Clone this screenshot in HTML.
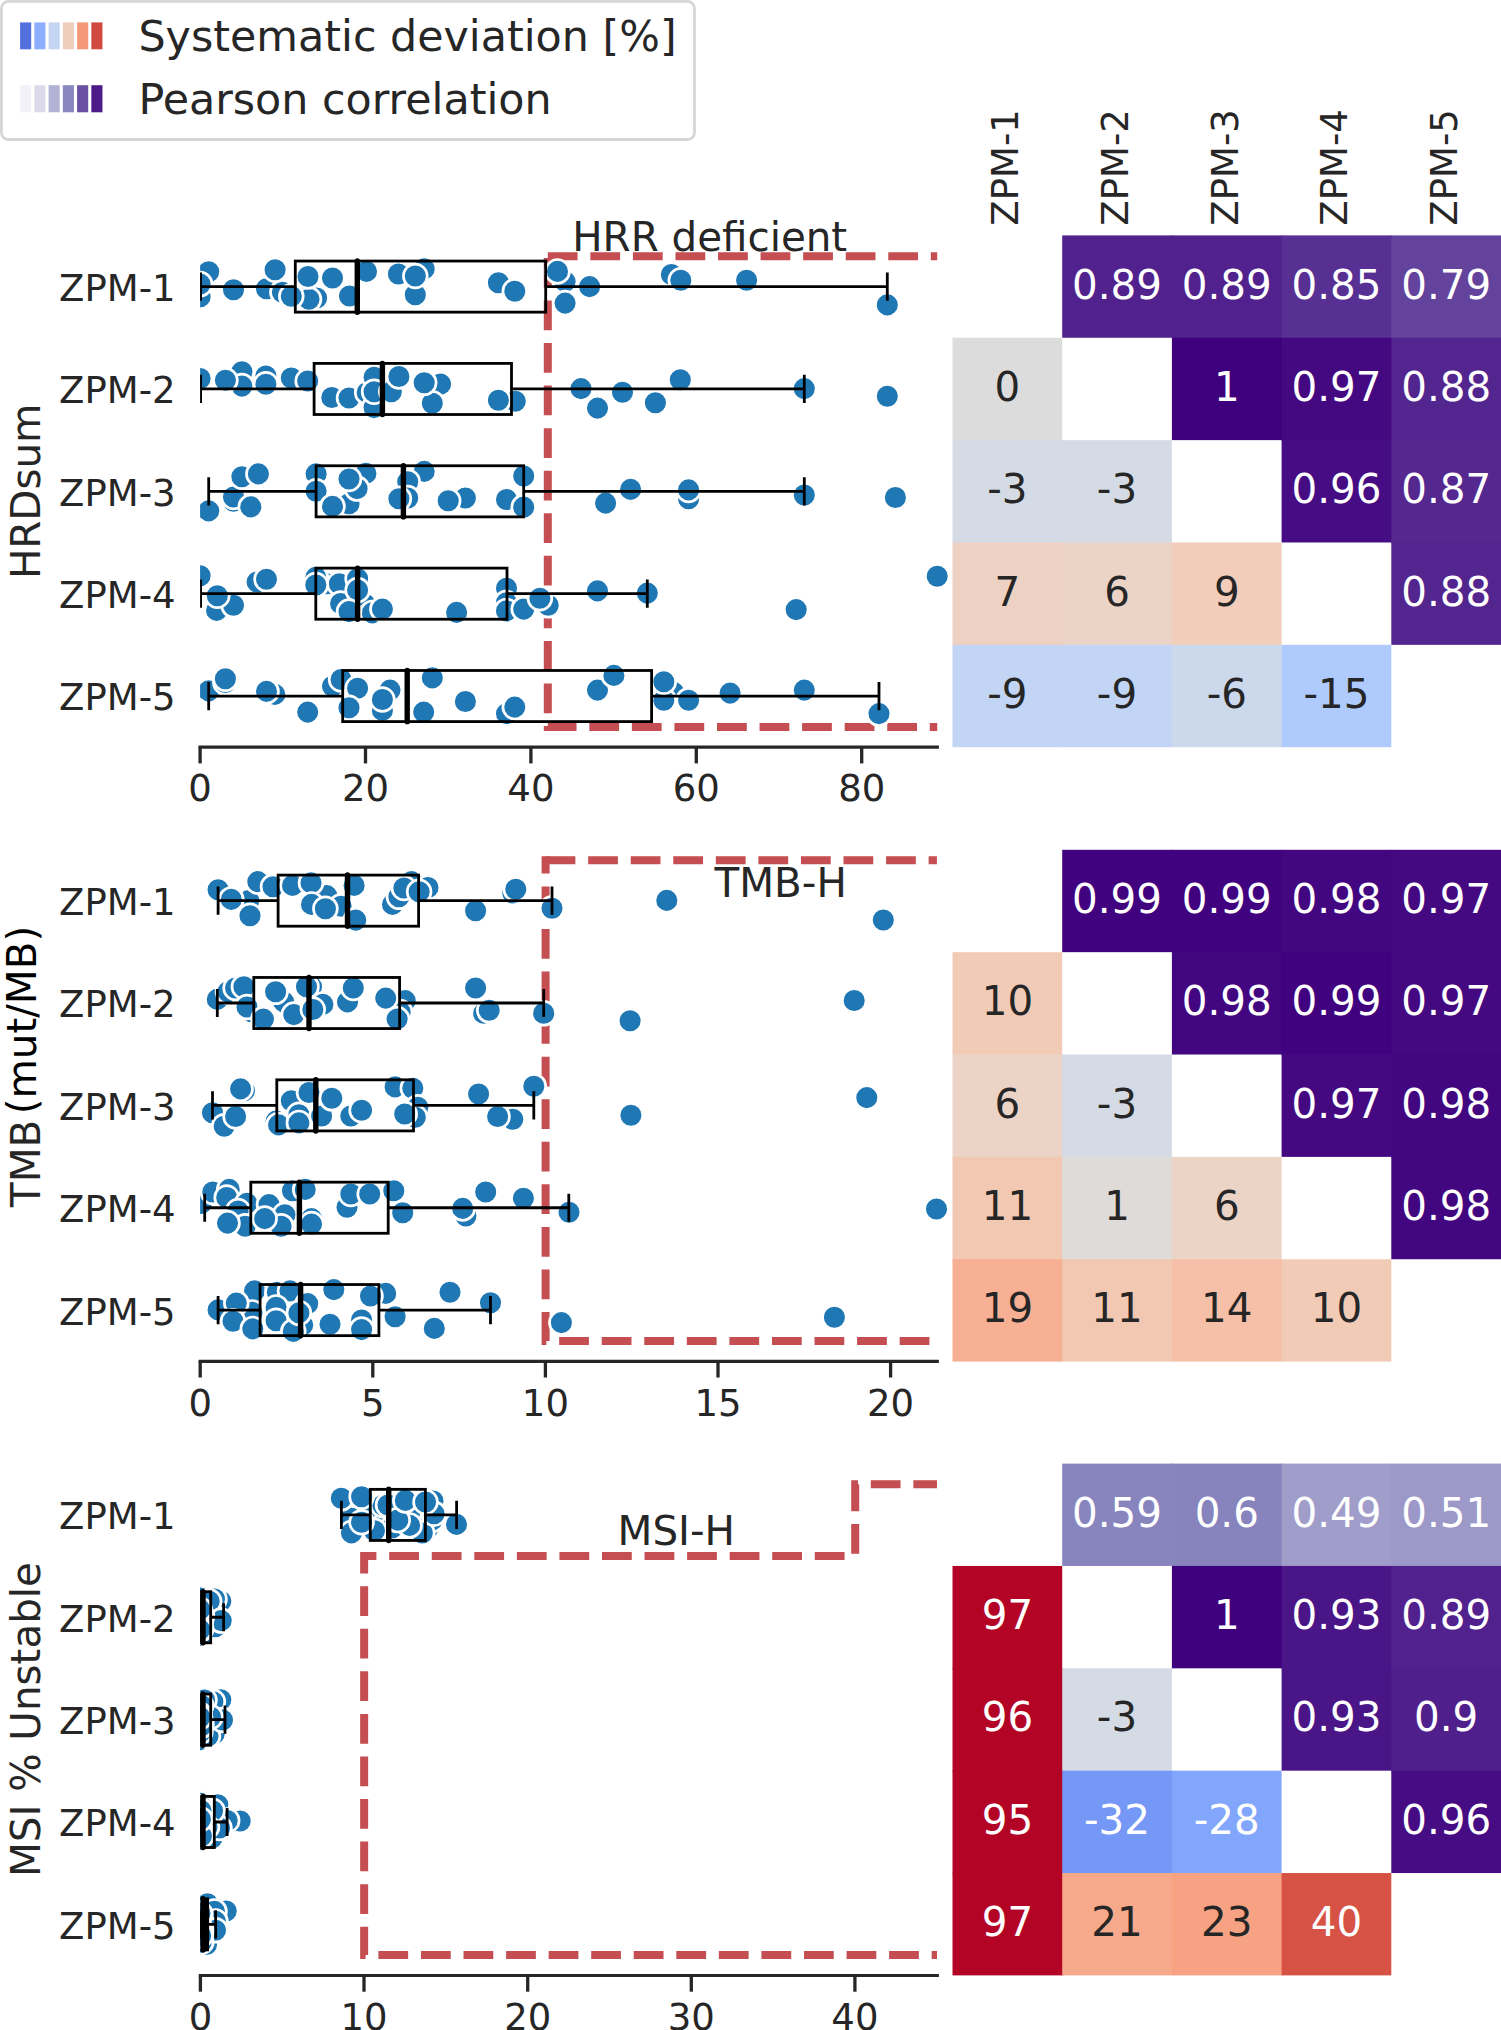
<!DOCTYPE html>
<html><head><meta charset="utf-8"><title>ZPM comparison</title>
<style>html,body{margin:0;padding:0;background:#fff}svg{display:block}</style></head>
<body>
<svg width="1501" height="2030" viewBox="0 0 1501 2030" font-family="'DejaVu Sans', 'Liberation Sans', sans-serif" fill="#262626">
<rect width="1501" height="2030" fill="#fff"/>
<defs>
<clipPath id="cp0"><rect x="200.1" y="215.4" width="759.9" height="551.8"/></clipPath>
<clipPath id="cp1"><rect x="200.1" y="829.8" width="759.9" height="551.8"/></clipPath>
<clipPath id="cp2"><rect x="200.1" y="1443.6" width="759.9" height="551.8"/></clipPath>
</defs>
<g id="legend">
<rect x="1.4" y="1.4" width="693.05" height="138.1" rx="7" ry="7" fill="#fff" stroke="#d6d6d6" stroke-width="2.8"/>
<rect x="20.10" y="22.4" width="11.1" height="26.9" fill="#5470de"/>
<rect x="20.10" y="85.2" width="11.1" height="27.1" fill="#f3f2f8"/>
<rect x="34.35" y="22.4" width="11.1" height="26.9" fill="#8db0fe"/>
<rect x="34.35" y="85.2" width="11.1" height="27.1" fill="#dadaeb"/>
<rect x="48.60" y="22.4" width="11.1" height="26.9" fill="#c5d6f2"/>
<rect x="48.60" y="85.2" width="11.1" height="27.1" fill="#b2b2d5"/>
<rect x="62.85" y="22.4" width="11.1" height="26.9" fill="#efcebd"/>
<rect x="62.85" y="85.2" width="11.1" height="27.1" fill="#8a86bf"/>
<rect x="77.10" y="22.4" width="11.1" height="26.9" fill="#f4987a"/>
<rect x="77.10" y="85.2" width="11.1" height="27.1" fill="#6950a3"/>
<rect x="91.35" y="22.4" width="11.1" height="26.9" fill="#d1493f"/>
<rect x="91.35" y="85.2" width="11.1" height="27.1" fill="#4d1a89"/>
<text x="138.4" y="51.2" font-size="42.8">Systematic deviation [%]</text>
<text x="138.4" y="113.7" font-size="42.8">Pearson correlation</text>
</g>
<text transform="translate(1018.1,225.7) rotate(-90)" font-size="37.0">ZPM-1</text>
<text transform="translate(1127.8,225.7) rotate(-90)" font-size="37.0">ZPM-2</text>
<text transform="translate(1237.5,225.7) rotate(-90)" font-size="37.0">ZPM-3</text>
<text transform="translate(1347.2,225.7) rotate(-90)" font-size="37.0">ZPM-4</text>
<text transform="translate(1457.0,225.7) rotate(-90)" font-size="37.0">ZPM-5</text>
<g id="hm0" font-size="40.4" text-anchor="middle">
<rect x="1062.20" y="235.40" width="110.70" height="102.36" fill="#51228d"/>
<rect x="1171.90" y="235.40" width="110.70" height="103.36" fill="#51228d"/>
<rect x="1281.60" y="235.40" width="110.70" height="103.36" fill="#582f93"/>
<rect x="1391.30" y="235.40" width="109.70" height="103.36" fill="#63439c"/>
<rect x="1171.90" y="337.76" width="110.70" height="102.36" fill="#3f007d"/>
<rect x="1281.60" y="337.76" width="110.70" height="103.36" fill="#440981"/>
<rect x="1391.30" y="337.76" width="109.70" height="103.36" fill="#53258e"/>
<rect x="1281.60" y="440.12" width="110.70" height="102.36" fill="#460c83"/>
<rect x="1391.30" y="440.12" width="109.70" height="103.36" fill="#552890"/>
<rect x="1391.30" y="542.48" width="109.70" height="102.36" fill="#53258e"/>
<rect x="952.50" y="337.76" width="109.70" height="103.36" fill="#dddcdc"/>
<rect x="952.50" y="440.12" width="110.70" height="103.36" fill="#d5dbe5"/>
<rect x="1062.20" y="440.12" width="109.70" height="103.36" fill="#d5dbe5"/>
<rect x="952.50" y="542.48" width="110.70" height="103.36" fill="#edd2c3"/>
<rect x="1062.20" y="542.48" width="110.70" height="103.36" fill="#ebd3c6"/>
<rect x="1171.90" y="542.48" width="109.70" height="103.36" fill="#f1cdba"/>
<rect x="952.50" y="644.84" width="110.70" height="102.36" fill="#c3d5f4"/>
<rect x="1062.20" y="644.84" width="110.70" height="102.36" fill="#c3d5f4"/>
<rect x="1171.90" y="644.84" width="110.70" height="102.36" fill="#ccd9ed"/>
<rect x="1281.60" y="644.84" width="109.70" height="102.36" fill="#afcafc"/>
<text x="1117.0" y="298.5" fill="#ffffff">0.89</text>
<text x="1226.8" y="298.5" fill="#ffffff">0.89</text>
<text x="1336.5" y="298.5" fill="#ffffff">0.85</text>
<text x="1446.2" y="298.5" fill="#ffffff">0.79</text>
<text x="1226.8" y="400.8" fill="#ffffff">1</text>
<text x="1336.5" y="400.8" fill="#ffffff">0.97</text>
<text x="1446.2" y="400.8" fill="#ffffff">0.88</text>
<text x="1336.5" y="503.2" fill="#ffffff">0.96</text>
<text x="1446.2" y="503.2" fill="#ffffff">0.87</text>
<text x="1446.2" y="605.6" fill="#ffffff">0.88</text>
<text x="1007.4" y="400.8" fill="#262626">0</text>
<text x="1007.4" y="503.2" fill="#262626">-3</text>
<text x="1117.0" y="503.2" fill="#262626">-3</text>
<text x="1007.4" y="605.6" fill="#262626">7</text>
<text x="1117.0" y="605.6" fill="#262626">6</text>
<text x="1226.8" y="605.6" fill="#262626">9</text>
<text x="1007.4" y="707.9" fill="#262626">-9</text>
<text x="1117.0" y="707.9" fill="#262626">-9</text>
<text x="1226.8" y="707.9" fill="#262626">-6</text>
<text x="1336.5" y="707.9" fill="#262626">-15</text>
</g>
<g id="hm1" font-size="40.4" text-anchor="middle">
<rect x="1062.20" y="849.80" width="110.70" height="102.36" fill="#40027e"/>
<rect x="1171.90" y="849.80" width="110.70" height="103.36" fill="#40027e"/>
<rect x="1281.60" y="849.80" width="110.70" height="103.36" fill="#420680"/>
<rect x="1391.30" y="849.80" width="109.70" height="103.36" fill="#440981"/>
<rect x="1171.90" y="952.16" width="110.70" height="102.36" fill="#420680"/>
<rect x="1281.60" y="952.16" width="110.70" height="103.36" fill="#40027e"/>
<rect x="1391.30" y="952.16" width="109.70" height="103.36" fill="#440981"/>
<rect x="1281.60" y="1054.52" width="110.70" height="102.36" fill="#440981"/>
<rect x="1391.30" y="1054.52" width="109.70" height="103.36" fill="#420680"/>
<rect x="1391.30" y="1156.88" width="109.70" height="102.36" fill="#420680"/>
<rect x="952.50" y="952.16" width="109.70" height="103.36" fill="#f2cbb7"/>
<rect x="952.50" y="1054.52" width="110.70" height="103.36" fill="#ebd3c6"/>
<rect x="1062.20" y="1054.52" width="109.70" height="103.36" fill="#d5dbe5"/>
<rect x="952.50" y="1156.88" width="110.70" height="103.36" fill="#f3c8b2"/>
<rect x="1062.20" y="1156.88" width="110.70" height="103.36" fill="#dfdbd9"/>
<rect x="1171.90" y="1156.88" width="109.70" height="103.36" fill="#ebd3c6"/>
<rect x="952.50" y="1259.24" width="110.70" height="102.36" fill="#f7b093"/>
<rect x="1062.20" y="1259.24" width="110.70" height="102.36" fill="#f3c8b2"/>
<rect x="1171.90" y="1259.24" width="110.70" height="102.36" fill="#f5c0a7"/>
<rect x="1281.60" y="1259.24" width="109.70" height="102.36" fill="#f2cbb7"/>
<text x="1117.0" y="912.9" fill="#ffffff">0.99</text>
<text x="1226.8" y="912.9" fill="#ffffff">0.99</text>
<text x="1336.5" y="912.9" fill="#ffffff">0.98</text>
<text x="1446.2" y="912.9" fill="#ffffff">0.97</text>
<text x="1226.8" y="1015.2" fill="#ffffff">0.98</text>
<text x="1336.5" y="1015.2" fill="#ffffff">0.99</text>
<text x="1446.2" y="1015.2" fill="#ffffff">0.97</text>
<text x="1336.5" y="1117.6" fill="#ffffff">0.97</text>
<text x="1446.2" y="1117.6" fill="#ffffff">0.98</text>
<text x="1446.2" y="1220.0" fill="#ffffff">0.98</text>
<text x="1007.4" y="1015.2" fill="#262626">10</text>
<text x="1007.4" y="1117.6" fill="#262626">6</text>
<text x="1117.0" y="1117.6" fill="#262626">-3</text>
<text x="1007.4" y="1220.0" fill="#262626">11</text>
<text x="1117.0" y="1220.0" fill="#262626">1</text>
<text x="1226.8" y="1220.0" fill="#262626">6</text>
<text x="1007.4" y="1322.3" fill="#262626">19</text>
<text x="1117.0" y="1322.3" fill="#262626">11</text>
<text x="1226.8" y="1322.3" fill="#262626">14</text>
<text x="1336.5" y="1322.3" fill="#262626">10</text>
</g>
<g id="hm2" font-size="40.4" text-anchor="middle">
<rect x="1062.20" y="1463.60" width="110.70" height="102.36" fill="#8885be"/>
<rect x="1171.90" y="1463.60" width="110.70" height="103.36" fill="#8683bd"/>
<rect x="1281.60" y="1463.60" width="110.70" height="103.36" fill="#a09dca"/>
<rect x="1391.30" y="1463.60" width="109.70" height="103.36" fill="#9c98c7"/>
<rect x="1171.90" y="1565.96" width="110.70" height="102.36" fill="#3f007d"/>
<rect x="1281.60" y="1565.96" width="110.70" height="103.36" fill="#4a1587"/>
<rect x="1391.30" y="1565.96" width="109.70" height="103.36" fill="#51228d"/>
<rect x="1281.60" y="1668.32" width="110.70" height="102.36" fill="#4a1587"/>
<rect x="1391.30" y="1668.32" width="109.70" height="103.36" fill="#4f1f8b"/>
<rect x="1391.30" y="1770.68" width="109.70" height="102.36" fill="#460c83"/>
<rect x="952.50" y="1565.96" width="109.70" height="103.36" fill="#b40426"/>
<rect x="952.50" y="1668.32" width="110.70" height="103.36" fill="#b40426"/>
<rect x="1062.20" y="1668.32" width="109.70" height="103.36" fill="#d5dbe5"/>
<rect x="952.50" y="1770.68" width="110.70" height="103.36" fill="#b40426"/>
<rect x="1062.20" y="1770.68" width="110.70" height="103.36" fill="#7597f6"/>
<rect x="1171.90" y="1770.68" width="109.70" height="103.36" fill="#82a6fb"/>
<rect x="952.50" y="1873.04" width="110.70" height="102.36" fill="#b40426"/>
<rect x="1062.20" y="1873.04" width="110.70" height="102.36" fill="#f7a98b"/>
<rect x="1171.90" y="1873.04" width="110.70" height="102.36" fill="#f6a283"/>
<rect x="1281.60" y="1873.04" width="109.70" height="102.36" fill="#d65244"/>
<text x="1117.0" y="1526.7" fill="#ffffff">0.59</text>
<text x="1226.8" y="1526.7" fill="#ffffff">0.6</text>
<text x="1336.5" y="1526.7" fill="#ffffff">0.49</text>
<text x="1446.2" y="1526.7" fill="#ffffff">0.51</text>
<text x="1226.8" y="1629.0" fill="#ffffff">1</text>
<text x="1336.5" y="1629.0" fill="#ffffff">0.93</text>
<text x="1446.2" y="1629.0" fill="#ffffff">0.89</text>
<text x="1336.5" y="1731.4" fill="#ffffff">0.93</text>
<text x="1446.2" y="1731.4" fill="#ffffff">0.9</text>
<text x="1446.2" y="1833.8" fill="#ffffff">0.96</text>
<text x="1007.4" y="1629.0" fill="#ffffff">97</text>
<text x="1007.4" y="1731.4" fill="#ffffff">96</text>
<text x="1117.0" y="1731.4" fill="#262626">-3</text>
<text x="1007.4" y="1833.8" fill="#ffffff">95</text>
<text x="1117.0" y="1833.8" fill="#ffffff">-32</text>
<text x="1226.8" y="1833.8" fill="#ffffff">-28</text>
<text x="1007.4" y="1936.1" fill="#ffffff">97</text>
<text x="1117.0" y="1936.1" fill="#262626">21</text>
<text x="1226.8" y="1936.1" fill="#262626">23</text>
<text x="1336.5" y="1936.1" fill="#ffffff">40</text>
</g>
<g id="panel0">
<text transform="translate(40.3,491.3) rotate(-90)" font-size="40.4" text-anchor="middle">HRDsum</text>
<text x="175.6" y="301.0" font-size="37.0" text-anchor="end">ZPM-1</text>
<text x="175.6" y="403.4" font-size="37.0" text-anchor="end">ZPM-2</text>
<text x="175.6" y="505.7" font-size="37.0" text-anchor="end">ZPM-3</text>
<text x="175.6" y="608.1" font-size="37.0" text-anchor="end">ZPM-4</text>
<text x="175.6" y="710.4" font-size="37.0" text-anchor="end">ZPM-5</text>
<path d="M547.8,256.3H937.2" fill="none" stroke="#c44e52" stroke-width="8.0" stroke-dasharray="29.76 12.8" stroke-dashoffset="0" stroke-linejoin="miter"/>
<path d="M547.8,257.9V727.1H937.2" fill="none" stroke="#c44e52" stroke-width="8.0" stroke-dasharray="29.76 12.8" stroke-dashoffset="0" stroke-linejoin="miter"/>
<g clip-path="url(#cp0)" fill="#1f77b4" stroke="#fff" stroke-width="2.7">
<circle cx="208.7" cy="271.7" r="11.9"/>
<circle cx="200.1" cy="296.8" r="11.9"/>
<circle cx="200.1" cy="284.1" r="11.9"/>
<circle cx="233.5" cy="289.7" r="11.9"/>
<circle cx="266.5" cy="288.7" r="11.9"/>
<circle cx="282.4" cy="292.2" r="11.9"/>
<circle cx="275.1" cy="269.7" r="11.9"/>
<circle cx="316.6" cy="298.0" r="11.9"/>
<circle cx="309.0" cy="299.3" r="11.9"/>
<circle cx="291.3" cy="296.3" r="11.9"/>
<circle cx="308.0" cy="276.5" r="11.9"/>
<circle cx="332.5" cy="278.0" r="11.9"/>
<circle cx="349.5" cy="296.0" r="11.9"/>
<circle cx="366.5" cy="271.4" r="11.9"/>
<circle cx="398.4" cy="274.0" r="11.9"/>
<circle cx="424.2" cy="268.9" r="11.9"/>
<circle cx="415.3" cy="294.7" r="11.9"/>
<circle cx="415.3" cy="276.0" r="11.9"/>
<circle cx="498.4" cy="282.8" r="11.9"/>
<circle cx="514.8" cy="291.2" r="11.9"/>
<circle cx="565.1" cy="281.6" r="11.9"/>
<circle cx="565.1" cy="303.1" r="11.9"/>
<circle cx="557.5" cy="271.4" r="11.9"/>
<circle cx="589.6" cy="286.6" r="11.9"/>
<circle cx="671.4" cy="274.5" r="11.9"/>
<circle cx="680.8" cy="280.3" r="11.9"/>
<circle cx="746.6" cy="280.3" r="11.9"/>
<circle cx="887.3" cy="304.9" r="11.9"/>
<circle cx="200.1" cy="378.5" r="11.9"/>
<circle cx="241.9" cy="371.7" r="11.9"/>
<circle cx="241.9" cy="386.1" r="11.9"/>
<circle cx="225.4" cy="380.3" r="11.9"/>
<circle cx="265.9" cy="376.0" r="11.9"/>
<circle cx="265.9" cy="384.3" r="11.9"/>
<circle cx="291.3" cy="378.0" r="11.9"/>
<circle cx="307.7" cy="381.0" r="11.9"/>
<circle cx="331.8" cy="397.5" r="11.9"/>
<circle cx="349.0" cy="398.0" r="11.9"/>
<circle cx="367.2" cy="392.4" r="11.9"/>
<circle cx="374.1" cy="377.2" r="11.9"/>
<circle cx="374.1" cy="407.6" r="11.9"/>
<circle cx="374.1" cy="391.7" r="11.9"/>
<circle cx="391.3" cy="391.7" r="11.9"/>
<circle cx="398.9" cy="376.5" r="11.9"/>
<circle cx="440.6" cy="384.1" r="11.9"/>
<circle cx="432.3" cy="403.3" r="11.9"/>
<circle cx="424.2" cy="382.8" r="11.9"/>
<circle cx="515.3" cy="401.3" r="11.9"/>
<circle cx="498.4" cy="400.3" r="11.9"/>
<circle cx="581.0" cy="388.6" r="11.9"/>
<circle cx="597.5" cy="408.1" r="11.9"/>
<circle cx="622.5" cy="392.2" r="11.9"/>
<circle cx="655.4" cy="402.8" r="11.9"/>
<circle cx="680.3" cy="379.8" r="11.9"/>
<circle cx="804.3" cy="388.6" r="11.9"/>
<circle cx="887.3" cy="396.2" r="11.9"/>
<circle cx="208.7" cy="510.9" r="11.9"/>
<circle cx="233.5" cy="501.3" r="11.9"/>
<circle cx="233.5" cy="497.0" r="11.9"/>
<circle cx="241.9" cy="476.7" r="11.9"/>
<circle cx="258.4" cy="473.9" r="11.9"/>
<circle cx="250.8" cy="506.9" r="11.9"/>
<circle cx="316.1" cy="473.9" r="11.9"/>
<circle cx="316.1" cy="491.2" r="11.9"/>
<circle cx="365.9" cy="473.4" r="11.9"/>
<circle cx="349.0" cy="503.8" r="11.9"/>
<circle cx="357.1" cy="488.6" r="11.9"/>
<circle cx="349.0" cy="479.0" r="11.9"/>
<circle cx="332.5" cy="506.4" r="11.9"/>
<circle cx="424.2" cy="471.4" r="11.9"/>
<circle cx="407.7" cy="481.8" r="11.9"/>
<circle cx="407.7" cy="498.0" r="11.9"/>
<circle cx="398.9" cy="498.8" r="11.9"/>
<circle cx="465.4" cy="498.0" r="11.9"/>
<circle cx="448.2" cy="500.8" r="11.9"/>
<circle cx="506.5" cy="499.5" r="11.9"/>
<circle cx="523.7" cy="476.0" r="11.9"/>
<circle cx="523.7" cy="507.1" r="11.9"/>
<circle cx="605.6" cy="503.1" r="11.9"/>
<circle cx="630.6" cy="489.4" r="11.9"/>
<circle cx="688.6" cy="498.8" r="11.9"/>
<circle cx="688.6" cy="489.9" r="11.9"/>
<circle cx="804.3" cy="495.0" r="11.9"/>
<circle cx="895.4" cy="497.5" r="11.9"/>
<circle cx="200.1" cy="575.7" r="11.9"/>
<circle cx="216.6" cy="610.4" r="11.9"/>
<circle cx="233.5" cy="605.3" r="11.9"/>
<circle cx="217.3" cy="595.7" r="11.9"/>
<circle cx="257.1" cy="582.0" r="11.9"/>
<circle cx="266.5" cy="579.2" r="11.9"/>
<circle cx="326.7" cy="583.8" r="11.9"/>
<circle cx="339.4" cy="583.8" r="11.9"/>
<circle cx="315.8" cy="577.4" r="11.9"/>
<circle cx="315.8" cy="585.0" r="11.9"/>
<circle cx="357.6" cy="578.7" r="11.9"/>
<circle cx="340.6" cy="603.5" r="11.9"/>
<circle cx="364.7" cy="604.0" r="11.9"/>
<circle cx="357.6" cy="590.1" r="11.9"/>
<circle cx="372.3" cy="612.9" r="11.9"/>
<circle cx="349.0" cy="611.6" r="11.9"/>
<circle cx="382.4" cy="609.1" r="11.9"/>
<circle cx="456.6" cy="612.4" r="11.9"/>
<circle cx="506.5" cy="588.3" r="11.9"/>
<circle cx="506.5" cy="602.8" r="11.9"/>
<circle cx="506.5" cy="610.9" r="11.9"/>
<circle cx="523.7" cy="609.1" r="11.9"/>
<circle cx="548.2" cy="605.3" r="11.9"/>
<circle cx="539.9" cy="598.2" r="11.9"/>
<circle cx="597.5" cy="590.9" r="11.9"/>
<circle cx="647.3" cy="593.1" r="11.9"/>
<circle cx="796.2" cy="609.6" r="11.9"/>
<circle cx="937.2" cy="576.2" r="11.9"/>
<circle cx="208.7" cy="690.9" r="11.9"/>
<circle cx="225.4" cy="682.5" r="11.9"/>
<circle cx="225.4" cy="678.7" r="11.9"/>
<circle cx="274.8" cy="694.4" r="11.9"/>
<circle cx="266.5" cy="691.4" r="11.9"/>
<circle cx="307.7" cy="712.1" r="11.9"/>
<circle cx="332.5" cy="686.3" r="11.9"/>
<circle cx="341.1" cy="679.5" r="11.9"/>
<circle cx="357.6" cy="688.3" r="11.9"/>
<circle cx="349.0" cy="707.8" r="11.9"/>
<circle cx="390.0" cy="690.1" r="11.9"/>
<circle cx="382.4" cy="710.4" r="11.9"/>
<circle cx="382.4" cy="699.5" r="11.9"/>
<circle cx="432.3" cy="677.9" r="11.9"/>
<circle cx="423.7" cy="712.1" r="11.9"/>
<circle cx="465.4" cy="701.5" r="11.9"/>
<circle cx="506.5" cy="713.6" r="11.9"/>
<circle cx="514.8" cy="707.1" r="11.9"/>
<circle cx="597.5" cy="690.1" r="11.9"/>
<circle cx="613.9" cy="675.4" r="11.9"/>
<circle cx="673.9" cy="692.6" r="11.9"/>
<circle cx="663.8" cy="700.2" r="11.9"/>
<circle cx="663.8" cy="681.7" r="11.9"/>
<circle cx="688.6" cy="700.2" r="11.9"/>
<circle cx="730.1" cy="693.1" r="11.9"/>
<circle cx="804.3" cy="690.1" r="11.9"/>
<circle cx="879.0" cy="713.6" r="11.9"/>
</g>
<g clip-path="url(#cp0)" fill="none" stroke="#000" stroke-width="2.8">
<rect x="295.3" y="261.05" width="250.4" height="51.1"/>
<path d="M200.6,286.60H295.3M545.7,286.60H887.3M200.6,272.50V300.70M887.3,272.50V300.70"/>
<path d="M357.3,261.00V312.20" stroke-width="5.4" stroke-linecap="round"/>
<rect x="314.1" y="363.41" width="197.4" height="51.1"/>
<path d="M200.6,388.96H314.1M511.5,388.96H804.3M200.6,374.86V403.06M804.3,374.86V403.06"/>
<path d="M382.4,363.36V414.56" stroke-width="5.4" stroke-linecap="round"/>
<rect x="316.1" y="465.77" width="207.6" height="51.1"/>
<path d="M208.7,491.32H316.1M523.7,491.32H804.3M208.7,477.22V505.42M804.3,477.22V505.42"/>
<path d="M403.4,465.72V516.92" stroke-width="5.4" stroke-linecap="round"/>
<rect x="315.8" y="568.13" width="191.2" height="51.1"/>
<path d="M200.6,593.68H315.8M507,593.68H647.3M200.6,579.58V607.78M647.3,579.58V607.78"/>
<path d="M357.6,568.08V619.28" stroke-width="5.4" stroke-linecap="round"/>
<rect x="342.7" y="670.49" width="308.9" height="51.1"/>
<path d="M208.7,696.04H342.7M651.6,696.04H879M208.7,681.94V710.14M879,681.94V710.14"/>
<path d="M407.2,670.44V721.64" stroke-width="5.4" stroke-linecap="round"/>
</g>
<text x="709.7" y="250.9" font-size="40.4" text-anchor="middle">HRR deficient</text>
<path d="M200.1,747.2H937.3" stroke="#262626" stroke-width="3.2" fill="none" stroke-linecap="square"/>
<path d="M200.1,747.2V763.4" stroke="#262626" stroke-width="3.3" fill="none"/>
<text x="200.1" y="801.4" font-size="37.0" text-anchor="middle">0</text>
<path d="M365.5,747.2V763.4" stroke="#262626" stroke-width="3.3" fill="none"/>
<text x="365.5" y="801.4" font-size="37.0" text-anchor="middle">20</text>
<path d="M530.9,747.2V763.4" stroke="#262626" stroke-width="3.3" fill="none"/>
<text x="530.9" y="801.4" font-size="37.0" text-anchor="middle">40</text>
<path d="M696.3,747.2V763.4" stroke="#262626" stroke-width="3.3" fill="none"/>
<text x="696.3" y="801.4" font-size="37.0" text-anchor="middle">60</text>
<path d="M861.7,747.2V763.4" stroke="#262626" stroke-width="3.3" fill="none"/>
<text x="861.7" y="801.4" font-size="37.0" text-anchor="middle">80</text>
</g>
<g id="panel1">
<text transform="translate(40.0,1206.9) rotate(-90)" font-size="40.4">TMB</text>
<text transform="translate(36.4,1114.3) rotate(-90)" font-size="40.4" fill="#000">(mut/MB)</text>
<text x="175.6" y="915.0" font-size="37.0" text-anchor="end">ZPM-1</text>
<text x="175.6" y="1017.4" font-size="37.0" text-anchor="end">ZPM-2</text>
<text x="175.6" y="1119.8" font-size="37.0" text-anchor="end">ZPM-3</text>
<text x="175.6" y="1222.1" font-size="37.0" text-anchor="end">ZPM-4</text>
<text x="175.6" y="1324.5" font-size="37.0" text-anchor="end">ZPM-5</text>
<path d="M545.6,860.2H936.9" fill="none" stroke="#c44e52" stroke-width="8.0" stroke-dasharray="29.76 12.8" stroke-dashoffset="0" stroke-linejoin="miter"/>
<path d="M929.4,1341H545.6V856.3" fill="none" stroke="#c44e52" stroke-width="8.0" stroke-dasharray="29.76 12.8" stroke-dashoffset="0" stroke-linejoin="miter"/>
<g clip-path="url(#cp1)" fill="#1f77b4" stroke="#fff" stroke-width="2.7">
<circle cx="218.1" cy="889.7" r="11.9"/>
<circle cx="248.7" cy="900.6" r="11.9"/>
<circle cx="231.3" cy="899.4" r="11.9"/>
<circle cx="250.0" cy="915.8" r="11.9"/>
<circle cx="257.8" cy="881.6" r="11.9"/>
<circle cx="273.0" cy="886.7" r="11.9"/>
<circle cx="292.5" cy="885.4" r="11.9"/>
<circle cx="326.7" cy="895.6" r="11.9"/>
<circle cx="311.0" cy="882.9" r="11.9"/>
<circle cx="311.5" cy="904.4" r="11.9"/>
<circle cx="341.1" cy="906.2" r="11.9"/>
<circle cx="325.4" cy="908.7" r="11.9"/>
<circle cx="354.1" cy="885.4" r="11.9"/>
<circle cx="355.8" cy="920.1" r="11.9"/>
<circle cx="411.5" cy="881.6" r="11.9"/>
<circle cx="428.0" cy="887.5" r="11.9"/>
<circle cx="392.5" cy="904.4" r="11.9"/>
<circle cx="398.9" cy="896.8" r="11.9"/>
<circle cx="403.9" cy="888.0" r="11.9"/>
<circle cx="419.1" cy="891.8" r="11.9"/>
<circle cx="475.6" cy="910.8" r="11.9"/>
<circle cx="512.8" cy="893.0" r="11.9"/>
<circle cx="515.8" cy="889.2" r="11.9"/>
<circle cx="552.0" cy="908.2" r="11.9"/>
<circle cx="217.3" cy="999.4" r="11.9"/>
<circle cx="228.0" cy="991.8" r="11.9"/>
<circle cx="235.6" cy="988.0" r="11.9"/>
<circle cx="243.9" cy="986.7" r="11.9"/>
<circle cx="252.0" cy="1012.0" r="11.9"/>
<circle cx="247.0" cy="1007.0" r="11.9"/>
<circle cx="263.4" cy="1019.1" r="11.9"/>
<circle cx="283.7" cy="1001.9" r="11.9"/>
<circle cx="275.6" cy="991.8" r="11.9"/>
<circle cx="293.8" cy="1014.6" r="11.9"/>
<circle cx="311.5" cy="986.7" r="11.9"/>
<circle cx="306.5" cy="986.7" r="11.9"/>
<circle cx="322.9" cy="1004.4" r="11.9"/>
<circle cx="312.8" cy="1009.5" r="11.9"/>
<circle cx="347.5" cy="1001.9" r="11.9"/>
<circle cx="353.3" cy="988.0" r="11.9"/>
<circle cx="405.2" cy="1000.6" r="11.9"/>
<circle cx="400.1" cy="1012.0" r="11.9"/>
<circle cx="397.1" cy="1019.1" r="11.9"/>
<circle cx="385.7" cy="998.1" r="11.9"/>
<circle cx="475.6" cy="988.0" r="11.9"/>
<circle cx="483.7" cy="1013.3" r="11.9"/>
<circle cx="489.2" cy="1010.3" r="11.9"/>
<circle cx="543.7" cy="1013.3" r="11.9"/>
<circle cx="244.4" cy="1090.7" r="11.9"/>
<circle cx="240.6" cy="1088.9" r="11.9"/>
<circle cx="212.5" cy="1112.7" r="11.9"/>
<circle cx="224.2" cy="1126.2" r="11.9"/>
<circle cx="235.6" cy="1116.5" r="11.9"/>
<circle cx="276.1" cy="1121.1" r="11.9"/>
<circle cx="278.6" cy="1124.9" r="11.9"/>
<circle cx="291.3" cy="1100.8" r="11.9"/>
<circle cx="309.0" cy="1092.5" r="11.9"/>
<circle cx="298.9" cy="1114.8" r="11.9"/>
<circle cx="298.9" cy="1122.9" r="11.9"/>
<circle cx="321.6" cy="1116.0" r="11.9"/>
<circle cx="331.8" cy="1098.3" r="11.9"/>
<circle cx="350.8" cy="1116.0" r="11.9"/>
<circle cx="361.6" cy="1110.2" r="11.9"/>
<circle cx="395.1" cy="1086.9" r="11.9"/>
<circle cx="412.8" cy="1088.2" r="11.9"/>
<circle cx="417.8" cy="1107.2" r="11.9"/>
<circle cx="415.3" cy="1117.3" r="11.9"/>
<circle cx="404.7" cy="1114.0" r="11.9"/>
<circle cx="478.6" cy="1094.0" r="11.9"/>
<circle cx="512.8" cy="1119.3" r="11.9"/>
<circle cx="497.6" cy="1116.5" r="11.9"/>
<circle cx="533.8" cy="1086.2" r="11.9"/>
<circle cx="201.4" cy="1203.4" r="11.9"/>
<circle cx="212.8" cy="1192.0" r="11.9"/>
<circle cx="229.2" cy="1189.4" r="11.9"/>
<circle cx="226.7" cy="1197.5" r="11.9"/>
<circle cx="247.0" cy="1203.4" r="11.9"/>
<circle cx="238.1" cy="1211.0" r="11.9"/>
<circle cx="245.2" cy="1226.2" r="11.9"/>
<circle cx="227.5" cy="1223.1" r="11.9"/>
<circle cx="269.0" cy="1204.6" r="11.9"/>
<circle cx="284.9" cy="1214.8" r="11.9"/>
<circle cx="281.1" cy="1226.2" r="11.9"/>
<circle cx="264.7" cy="1218.6" r="11.9"/>
<circle cx="292.5" cy="1190.7" r="11.9"/>
<circle cx="305.2" cy="1189.4" r="11.9"/>
<circle cx="311.5" cy="1218.6" r="11.9"/>
<circle cx="311.5" cy="1224.1" r="11.9"/>
<circle cx="347.0" cy="1207.2" r="11.9"/>
<circle cx="350.8" cy="1194.0" r="11.9"/>
<circle cx="369.7" cy="1194.0" r="11.9"/>
<circle cx="393.8" cy="1190.7" r="11.9"/>
<circle cx="402.7" cy="1212.7" r="11.9"/>
<circle cx="465.9" cy="1216.0" r="11.9"/>
<circle cx="462.7" cy="1208.4" r="11.9"/>
<circle cx="485.7" cy="1192.0" r="11.9"/>
<circle cx="523.4" cy="1198.3" r="11.9"/>
<circle cx="569.0" cy="1212.2" r="11.9"/>
<circle cx="218.1" cy="1309.9" r="11.9"/>
<circle cx="254.6" cy="1290.9" r="11.9"/>
<circle cx="252.0" cy="1312.4" r="11.9"/>
<circle cx="236.3" cy="1303.1" r="11.9"/>
<circle cx="233.0" cy="1321.3" r="11.9"/>
<circle cx="252.8" cy="1328.9" r="11.9"/>
<circle cx="277.3" cy="1292.2" r="11.9"/>
<circle cx="290.0" cy="1290.9" r="11.9"/>
<circle cx="276.1" cy="1307.4" r="11.9"/>
<circle cx="276.1" cy="1320.8" r="11.9"/>
<circle cx="307.7" cy="1303.6" r="11.9"/>
<circle cx="302.7" cy="1325.1" r="11.9"/>
<circle cx="293.3" cy="1331.4" r="11.9"/>
<circle cx="298.9" cy="1312.9" r="11.9"/>
<circle cx="333.8" cy="1289.6" r="11.9"/>
<circle cx="330.0" cy="1324.3" r="11.9"/>
<circle cx="385.7" cy="1293.4" r="11.9"/>
<circle cx="370.5" cy="1296.0" r="11.9"/>
<circle cx="361.6" cy="1320.0" r="11.9"/>
<circle cx="361.6" cy="1329.6" r="11.9"/>
<circle cx="395.1" cy="1316.7" r="11.9"/>
<circle cx="434.3" cy="1328.4" r="11.9"/>
<circle cx="450.0" cy="1292.2" r="11.9"/>
<circle cx="490.5" cy="1302.8" r="11.9"/>
<circle cx="561.4" cy="1322.6" r="11.9"/>
<circle cx="666.8" cy="900.4" r="11.9"/>
<circle cx="883.3" cy="920.0" r="11.9"/>
<circle cx="630.1" cy="1020.7" r="11.9"/>
<circle cx="854.2" cy="1000.5" r="11.9"/>
<circle cx="630.9" cy="1115.3" r="11.9"/>
<circle cx="866.8" cy="1097.6" r="11.9"/>
<circle cx="936.5" cy="1209.0" r="11.9"/>
<circle cx="834.4" cy="1317.3" r="11.9"/>
</g>
<g clip-path="url(#cp1)" fill="none" stroke="#000" stroke-width="2.8">
<rect x="278.1" y="875.10" width="140.5" height="51.1"/>
<path d="M218.1,900.65H278.1M418.6,900.65H552M218.1,886.55V914.75M552,886.55V914.75"/>
<path d="M347.5,875.05V926.25" stroke-width="5.4" stroke-linecap="round"/>
<rect x="253.8" y="977.46" width="145.8" height="51.1"/>
<path d="M217.3,1003.01H253.8M399.6,1003.01H543.7M217.3,988.91V1017.11M543.7,988.91V1017.11"/>
<path d="M309,977.41V1028.61" stroke-width="5.4" stroke-linecap="round"/>
<rect x="276.8" y="1079.82" width="136.7" height="51.1"/>
<path d="M212.5,1105.37H276.8M413.5,1105.37H533.8M212.5,1091.27V1119.47M533.8,1091.27V1119.47"/>
<path d="M315.8,1079.77V1130.97" stroke-width="5.4" stroke-linecap="round"/>
<rect x="250.8" y="1182.18" width="137.4" height="51.1"/>
<path d="M204.7,1207.73H250.8M388.2,1207.73H568.8M204.7,1193.63V1221.83M568.8,1193.63V1221.83"/>
<path d="M299.4,1182.13V1233.33" stroke-width="5.4" stroke-linecap="round"/>
<rect x="260.1" y="1284.54" width="118.8" height="51.1"/>
<path d="M218.1,1310.09H260.1M378.9,1310.09H490.5M218.1,1295.99V1324.19M490.5,1295.99V1324.19"/>
<path d="M300.6,1284.49V1335.69" stroke-width="5.4" stroke-linecap="round"/>
</g>
<text x="780.7" y="897.1" font-size="40.4" text-anchor="middle">TMB-H</text>
<path d="M200.2,1361.3H937.3" stroke="#262626" stroke-width="3.2" fill="none" stroke-linecap="square"/>
<path d="M200.2,1361.3V1377.5" stroke="#262626" stroke-width="3.3" fill="none"/>
<text x="200.2" y="1415.5" font-size="37.0" text-anchor="middle">0</text>
<path d="M372.8,1361.3V1377.5" stroke="#262626" stroke-width="3.3" fill="none"/>
<text x="372.8" y="1415.5" font-size="37.0" text-anchor="middle">5</text>
<path d="M545.4,1361.3V1377.5" stroke="#262626" stroke-width="3.3" fill="none"/>
<text x="545.4" y="1415.5" font-size="37.0" text-anchor="middle">10</text>
<path d="M718.0,1361.3V1377.5" stroke="#262626" stroke-width="3.3" fill="none"/>
<text x="718.0" y="1415.5" font-size="37.0" text-anchor="middle">15</text>
<path d="M890.6,1361.3V1377.5" stroke="#262626" stroke-width="3.3" fill="none"/>
<text x="890.6" y="1415.5" font-size="37.0" text-anchor="middle">20</text>
</g>
<g id="panel2">
<text transform="translate(40.3,1719.6) rotate(-90)" font-size="40.4" text-anchor="middle">MSI % Unstable</text>
<text x="175.6" y="1529.3" font-size="37.0" text-anchor="end">ZPM-1</text>
<text x="175.6" y="1631.7" font-size="37.0" text-anchor="end">ZPM-2</text>
<text x="175.6" y="1734.0" font-size="37.0" text-anchor="end">ZPM-3</text>
<text x="175.6" y="1836.4" font-size="37.0" text-anchor="end">ZPM-4</text>
<text x="175.6" y="1938.7" font-size="37.0" text-anchor="end">ZPM-5</text>
<path d="M937,1484.2H855.2V1555.9H364.15V1955H937" fill="none" stroke="#c44e52" stroke-width="8.0" stroke-dasharray="29.76 12.8" stroke-dashoffset="6.1" stroke-linejoin="miter"/>
<g clip-path="url(#cp2)" fill="#1f77b4" stroke="#fff" stroke-width="2.7">
<circle cx="380" cy="1512" r="11.9"/>
<circle cx="392" cy="1528" r="11.9"/>
<circle cx="415" cy="1512" r="11.9"/>
<circle cx="428" cy="1528" r="11.9"/>
<circle cx="366" cy="1510" r="11.9"/>
<circle cx="433" cy="1501" r="11.9"/>
<circle cx="432" cy="1520" r="11.9"/>
<circle cx="422.3" cy="1533" r="11.9"/>
<circle cx="382.9" cy="1505.2" r="11.9"/>
<circle cx="388" cy="1505" r="11.9"/>
<circle cx="350.9" cy="1518" r="11.9"/>
<circle cx="374.4" cy="1530.8" r="11.9"/>
<circle cx="351.5" cy="1532.9" r="11.9"/>
<circle cx="341.3" cy="1498.3" r="11.9"/>
<circle cx="434" cy="1513.7" r="11.9"/>
<circle cx="409.6" cy="1525.4" r="11.9"/>
<circle cx="361.6" cy="1496.7" r="11.9"/>
<circle cx="361.6" cy="1522.2" r="11.9"/>
<circle cx="397.8" cy="1520.1" r="11.9"/>
<circle cx="405.3" cy="1500.4" r="11.9"/>
<circle cx="425.5" cy="1502" r="11.9"/>
<circle cx="456.5" cy="1524.4" r="11.9"/>
<circle cx="199.9" cy="1631.2" r="11.9"/>
<circle cx="201.6" cy="1607.5" r="11.9"/>
<circle cx="200.9" cy="1615.2" r="11.9"/>
<circle cx="201.3" cy="1628.8" r="11.9"/>
<circle cx="199.8" cy="1598.4" r="11.9"/>
<circle cx="201.8" cy="1614.6" r="11.9"/>
<circle cx="201.6" cy="1597.3" r="11.9"/>
<circle cx="200.8" cy="1626.1" r="11.9"/>
<circle cx="200.2" cy="1635.1" r="11.9"/>
<circle cx="201.9" cy="1598.5" r="11.9"/>
<circle cx="199.7" cy="1618.9" r="11.9"/>
<circle cx="202.0" cy="1612.5" r="11.9"/>
<circle cx="200.2" cy="1614.1" r="11.9"/>
<circle cx="199.7" cy="1606.1" r="11.9"/>
<circle cx="200.7" cy="1617.1" r="11.9"/>
<circle cx="200.2" cy="1606.5" r="11.9"/>
<circle cx="200.2" cy="1615.6" r="11.9"/>
<circle cx="200.4" cy="1598.1" r="11.9"/>
<circle cx="204" cy="1632" r="11.9"/>
<circle cx="215.3" cy="1626.8" r="11.9"/>
<circle cx="220.8" cy="1601.3" r="11.9"/>
<circle cx="214.5" cy="1599" r="11.9"/>
<circle cx="209.2" cy="1601.3" r="11.9"/>
<circle cx="221.2" cy="1620.6" r="11.9"/>
<circle cx="200.8" cy="1619.7" r="11.9"/>
<circle cx="202.0" cy="1615.9" r="11.9"/>
<circle cx="200.9" cy="1620.8" r="11.9"/>
<circle cx="200.1" cy="1617.7" r="11.9"/>
<circle cx="201.2" cy="1629.0" r="11.9"/>
<circle cx="199.8" cy="1609.4" r="11.9"/>
<circle cx="199.8" cy="1629.6" r="11.9"/>
<circle cx="202.1" cy="1737.5" r="11.9"/>
<circle cx="199.7" cy="1703.0" r="11.9"/>
<circle cx="201.8" cy="1729.1" r="11.9"/>
<circle cx="201.3" cy="1711.9" r="11.9"/>
<circle cx="201.2" cy="1723.9" r="11.9"/>
<circle cx="201.1" cy="1706.0" r="11.9"/>
<circle cx="200.7" cy="1715.4" r="11.9"/>
<circle cx="201.5" cy="1739.4" r="11.9"/>
<circle cx="202.1" cy="1721.4" r="11.9"/>
<circle cx="200.8" cy="1710.3" r="11.9"/>
<circle cx="199.7" cy="1700.7" r="11.9"/>
<circle cx="200.8" cy="1712.4" r="11.9"/>
<circle cx="200.6" cy="1735.3" r="11.9"/>
<circle cx="201.0" cy="1722.0" r="11.9"/>
<circle cx="200.2" cy="1700.6" r="11.9"/>
<circle cx="200.4" cy="1705.1" r="11.9"/>
<circle cx="200.9" cy="1739.6" r="11.9"/>
<circle cx="201.4" cy="1706.9" r="11.9"/>
<circle cx="214.2" cy="1733.8" r="11.9"/>
<circle cx="208" cy="1736" r="11.9"/>
<circle cx="220.8" cy="1699.8" r="11.9"/>
<circle cx="212.9" cy="1701.8" r="11.9"/>
<circle cx="204.5" cy="1700" r="11.9"/>
<circle cx="222.5" cy="1720" r="11.9"/>
<circle cx="210.5" cy="1717" r="11.9"/>
<circle cx="200.8" cy="1725.9" r="11.9"/>
<circle cx="201.3" cy="1705.3" r="11.9"/>
<circle cx="199.6" cy="1714.6" r="11.9"/>
<circle cx="200.3" cy="1732.0" r="11.9"/>
<circle cx="201.4" cy="1723.7" r="11.9"/>
<circle cx="201.1" cy="1726.1" r="11.9"/>
<circle cx="200.0" cy="1717.2" r="11.9"/>
<circle cx="200.2" cy="1823.7" r="11.9"/>
<circle cx="200.6" cy="1826.1" r="11.9"/>
<circle cx="201.2" cy="1804.6" r="11.9"/>
<circle cx="199.6" cy="1835.5" r="11.9"/>
<circle cx="200.3" cy="1811.4" r="11.9"/>
<circle cx="202.2" cy="1820.8" r="11.9"/>
<circle cx="201.8" cy="1821.0" r="11.9"/>
<circle cx="201.3" cy="1808.0" r="11.9"/>
<circle cx="201.3" cy="1836.7" r="11.9"/>
<circle cx="201.0" cy="1831.6" r="11.9"/>
<circle cx="201.3" cy="1804.5" r="11.9"/>
<circle cx="201.6" cy="1825.6" r="11.9"/>
<circle cx="200.4" cy="1803.2" r="11.9"/>
<circle cx="201.9" cy="1820.9" r="11.9"/>
<circle cx="201.5" cy="1837.1" r="11.9"/>
<circle cx="201.5" cy="1838.8" r="11.9"/>
<circle cx="200.6" cy="1834.0" r="11.9"/>
<circle cx="200.8" cy="1839.4" r="11.9"/>
<circle cx="217.8" cy="1804.8" r="11.9"/>
<circle cx="212" cy="1838" r="11.9"/>
<circle cx="240.2" cy="1821" r="11.9"/>
<circle cx="227.2" cy="1820.5" r="11.9"/>
<circle cx="219.5" cy="1828" r="11.9"/>
<circle cx="212.5" cy="1810.8" r="11.9"/>
<circle cx="207" cy="1827" r="11.9"/>
<circle cx="200.3" cy="1829.4" r="11.9"/>
<circle cx="201.4" cy="1836.0" r="11.9"/>
<circle cx="200.1" cy="1811.2" r="11.9"/>
<circle cx="200.0" cy="1811.0" r="11.9"/>
<circle cx="201.5" cy="1807.2" r="11.9"/>
<circle cx="201.0" cy="1810.5" r="11.9"/>
<circle cx="200.4" cy="1819.2" r="11.9"/>
<circle cx="200.2" cy="1908.5" r="11.9"/>
<circle cx="200.6" cy="1910.5" r="11.9"/>
<circle cx="199.8" cy="1920.4" r="11.9"/>
<circle cx="202.0" cy="1936.4" r="11.9"/>
<circle cx="201.6" cy="1913.2" r="11.9"/>
<circle cx="201.0" cy="1915.4" r="11.9"/>
<circle cx="200.0" cy="1908.6" r="11.9"/>
<circle cx="200.2" cy="1941.4" r="11.9"/>
<circle cx="201.8" cy="1936.6" r="11.9"/>
<circle cx="201.7" cy="1912.1" r="11.9"/>
<circle cx="200.4" cy="1929.4" r="11.9"/>
<circle cx="201.5" cy="1938.5" r="11.9"/>
<circle cx="201.9" cy="1907.8" r="11.9"/>
<circle cx="201.2" cy="1931.2" r="11.9"/>
<circle cx="200.9" cy="1911.5" r="11.9"/>
<circle cx="200.8" cy="1907.9" r="11.9"/>
<circle cx="202.0" cy="1939.0" r="11.9"/>
<circle cx="201.0" cy="1916.3" r="11.9"/>
<circle cx="207.5" cy="1903.8" r="11.9"/>
<circle cx="206.5" cy="1944.5" r="11.9"/>
<circle cx="226.2" cy="1911" r="11.9"/>
<circle cx="214.5" cy="1911.4" r="11.9"/>
<circle cx="215.5" cy="1921.4" r="11.9"/>
<circle cx="215.5" cy="1930.2" r="11.9"/>
<circle cx="199.9" cy="1932.4" r="11.9"/>
<circle cx="201.3" cy="1942.0" r="11.9"/>
<circle cx="200.3" cy="1914.6" r="11.9"/>
<circle cx="201.5" cy="1930.7" r="11.9"/>
<circle cx="200.4" cy="1931.7" r="11.9"/>
<circle cx="200.6" cy="1935.4" r="11.9"/>
<circle cx="199.9" cy="1913.3" r="11.9"/>
</g>
<g clip-path="url(#cp2)" fill="none" stroke="#000" stroke-width="2.8">
<rect x="370.3" y="1489.35" width="55.1" height="51.1"/>
<path d="M341.4,1514.90H370.3M425.4,1514.90H456.6M341.4,1500.80V1529.00M456.6,1500.80V1529.00"/>
<path d="M388.7,1489.30V1540.50" stroke-width="5.4" stroke-linecap="round"/>
<rect x="201.5" y="1591.71" width="9.2" height="51.1"/>
<path d="M200.4,1617.26H201.5M210.7,1617.26H223.6M200.4,1603.16V1631.36M223.6,1603.16V1631.36"/>
<path d="M203.0,1591.66V1642.86" stroke-width="5.4" stroke-linecap="round"/>
<rect x="201.5" y="1694.07" width="9.2" height="51.1"/>
<path d="M200.4,1719.62H201.5M210.7,1719.62H225.0M200.4,1705.52V1733.72M225.0,1705.52V1733.72"/>
<path d="M203.0,1694.02V1745.22" stroke-width="5.4" stroke-linecap="round"/>
<rect x="201.8" y="1796.43" width="12.5" height="51.1"/>
<path d="M200.4,1821.98H201.8M214.3,1821.98H227.1M200.4,1807.88V1836.08M227.1,1807.88V1836.08"/>
<path d="M203.0,1796.38V1847.58" stroke-width="5.4" stroke-linecap="round"/>
<rect x="205.3" y="1898.79" width="2.4" height="51.1"/>
<path d="M200.4,1924.34H205.3M207.7,1924.34H215.65M200.4,1910.24V1938.44M215.65,1910.24V1938.44"/>
<path d="M203.0,1898.74V1949.94" stroke-width="5.4" stroke-linecap="round"/>
</g>
<text x="676.3" y="1545.1" font-size="40.4" text-anchor="middle">MSI-H</text>
<path d="M200.4,1975.5H937.3" stroke="#262626" stroke-width="3.2" fill="none" stroke-linecap="square"/>
<path d="M200.4,1975.5V1991.7" stroke="#262626" stroke-width="3.3" fill="none"/>
<text x="200.4" y="2029.7" font-size="37.0" text-anchor="middle">0</text>
<path d="M364.0,1975.5V1991.7" stroke="#262626" stroke-width="3.3" fill="none"/>
<text x="364.0" y="2029.7" font-size="37.0" text-anchor="middle">10</text>
<path d="M527.7,1975.5V1991.7" stroke="#262626" stroke-width="3.3" fill="none"/>
<text x="527.7" y="2029.7" font-size="37.0" text-anchor="middle">20</text>
<path d="M691.3,1975.5V1991.7" stroke="#262626" stroke-width="3.3" fill="none"/>
<text x="691.3" y="2029.7" font-size="37.0" text-anchor="middle">30</text>
<path d="M854.9,1975.5V1991.7" stroke="#262626" stroke-width="3.3" fill="none"/>
<text x="854.9" y="2029.7" font-size="37.0" text-anchor="middle">40</text>
</g>
</svg>
</body></html>
